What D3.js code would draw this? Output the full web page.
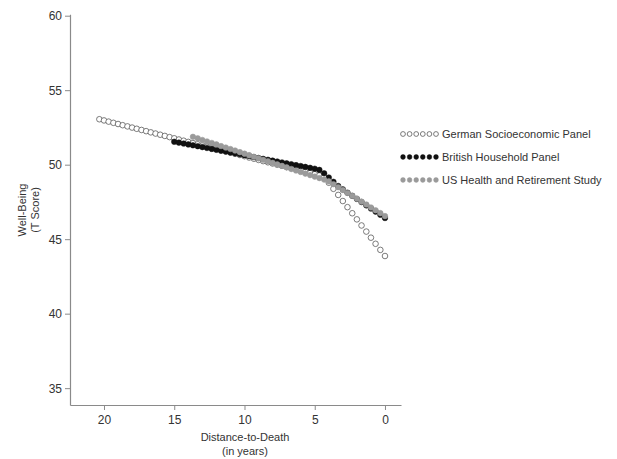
<!DOCTYPE html>
<html><head><meta charset="utf-8">
<script src="https://cdn.jsdelivr.net/npm/d3@7"></script>
<style>
html,body{margin:0;padding:0;background:#fff;}
svg{display:block;font-family:"Liberation Sans",Arial,Helvetica,sans-serif;}
</style></head>
<body>
<svg id="chart" width="617" height="459"></svg>
<script>
// ---- data ----
const germanYears = [20.33,20,19.67,19.33,19,18.67,18.33,18,17.67,17.33,17,16.67,16.33,16,15.67,15.33,15,14.67,14.33,14,13.67,13.33,13,12.67,12.33,12,11.67,11.33,11,10.67,10.33,10,9.67,9.33,9,8.67,8.33,8,7.67,7.33,7,6.67,6.33,6,5.67,5.33,5,4.67,4.33,4,3.67,3.33,3,2.67,2.33,2,1.67,1.33,1,0.67,0.33,0];
const germanValues = [53.05,52.97,52.89,52.81,52.73,52.65,52.57,52.49,52.41,52.33,52.25,52.17,52.09,52.01,51.93,51.85,51.77,51.69,51.61,51.53,51.45,51.37,51.29,51.21,51.13,51.05,50.97,50.89,50.81,50.73,50.65,50.57,50.48,50.40,50.32,50.24,50.16,50.08,50.00,49.92,49.84,49.76,49.68,49.60,49.52,49.44,49.36,49.28,49.18,48.79,48.38,47.97,47.56,47.15,46.74,46.33,45.92,45.51,45.10,44.69,44.28,43.87];

const britishYears = [15,14.67,14.33,14,13.67,13.33,13,12.67,12.33,12,11.67,11.33,11,10.67,10.33,10,9.67,9.33,9,8.67,8.33,8,7.67,7.33,7,6.67,6.33,6,5.67,5.33,5,4.67,4.33,4,3.67,3.33,3,2.67,2.33,2,1.67,1.33,1,0.67,0.33,0];
const britishValues = [51.54,51.48,51.42,51.36,51.30,51.24,51.18,51.12,51.06,51.00,50.94,50.88,50.82,50.76,50.70,50.64,50.58,50.51,50.45,50.39,50.33,50.27,50.21,50.15,50.09,50.03,49.97,49.91,49.85,49.79,49.73,49.65,49.42,49.14,48.85,48.57,48.34,48.12,47.91,47.70,47.49,47.27,47.06,46.85,46.64,46.42];

const usYears = [13.67,13.33,13,12.67,12.33,12,11.67,11.33,11,10.67,10.33,10,9.67,9.33,9,8.67,8.33,8,7.67,7.33,7,6.67,6.33,6,5.67,5.33,5,4.67,4.33,4,3.67,3.33,3,2.67,2.33,2,1.67,1.33,1,0.67,0.33,0];
const usValues = [51.87,51.77,51.66,51.56,51.46,51.36,51.25,51.15,51.05,50.95,50.84,50.74,50.64,50.53,50.43,50.33,50.23,50.12,50.02,49.92,49.82,49.71,49.61,49.51,49.40,49.30,49.20,49.10,49.00,48.88,48.69,48.49,48.30,48.10,47.91,47.72,47.52,47.33,47.13,46.94,46.75,46.55];

const seriesNames = ["German Socioeconomic Panel","British Household Panel","US Health and Retirement Study"];
const xTicks = [20,15,10,5,0];
const yTicks = [35,40,45,50,55,60];

// ---- chart ----
const svg = d3.select("#chart");
const x = d3.scaleLinear().domain([22.42,-1.14]).range([70,401]);
const y = d3.scaleLinear().domain([33.87,60.1]).range([405,14.2]);
const axisColor = "#8a8a8a", textColor = "#333";

const yAxis = svg.append("g").attr("transform","translate(70,0)")
  .call(d3.axisLeft(y).tickValues(yTicks).tickSize(5).tickPadding(3).tickSizeOuter(0));
const xAxis = svg.append("g").attr("transform","translate(0,405)")
  .call(d3.axisBottom(x).tickValues(xTicks).tickSize(5).tickPadding(5).tickSizeOuter(0));
[yAxis,xAxis].forEach(g=>{
  g.select(".domain").attr("stroke",axisColor).attr("stroke-width",1.2);
  g.selectAll(".tick line").attr("stroke",axisColor);
  g.selectAll(".tick text").attr("fill",textColor).style("font-size","12px").style("font-family","Liberation Sans, Arial, sans-serif");
});

svg.append("text").attr("x",245).attr("y",441).attr("text-anchor","middle")
  .attr("fill",textColor).style("font-size","11px").text("Distance-to-Death");
svg.append("text").attr("x",245).attr("y",455).attr("text-anchor","middle")
  .attr("fill",textColor).style("font-size","11px").text("(in years)");
svg.append("text").attr("transform","translate(26,210) rotate(-90)").attr("text-anchor","middle")
  .attr("fill",textColor).style("font-size","11px").text("Well-Being");
svg.append("text").attr("transform","translate(39,210) rotate(-90)").attr("text-anchor","middle")
  .attr("fill",textColor).style("font-size","11px").text("(T Score)");

const styles = [
  {fill:"#fff", stroke:"#5a5a5a", sw:0.8},
  {fill:"#111", stroke:"#111", sw:0.5},
  {fill:"#9a9a9a", stroke:"#9a9a9a", sw:0.5}
];
const data = [
  germanYears.map((t,i)=>({t, v:germanValues[i]})),
  britishYears.map((t,i)=>({t, v:britishValues[i]})),
  usYears.map((t,i)=>({t, v:usValues[i]}))
];
data.forEach((d,si)=>{
  svg.append("g").selectAll("circle").data(d).join("circle")
    .attr("cx",p=>x(p.t)).attr("cy",p=>y(p.v)).attr("r",2.8)
    .attr("fill",styles[si].fill).attr("stroke",styles[si].stroke).attr("stroke-width",styles[si].sw);
});

// legend
const leg = svg.append("g");
const legY = [134,157,180];
seriesNames.forEach((name,i)=>{
  const g = leg.append("g").attr("transform",`translate(0,${legY[i]})`);
  g.selectAll("circle").data(d3.range(6)).join("circle")
    .attr("cx",k=>403+k*6.6).attr("cy",0).attr("r",2.4)
    .attr("fill",styles[i].fill).attr("stroke",styles[i].stroke).attr("stroke-width",styles[i].sw);
  g.append("text").attr("x",442).attr("y",4).attr("fill",textColor)
    .style("font-size","11px").text(name);
});
</script>
</body></html>
